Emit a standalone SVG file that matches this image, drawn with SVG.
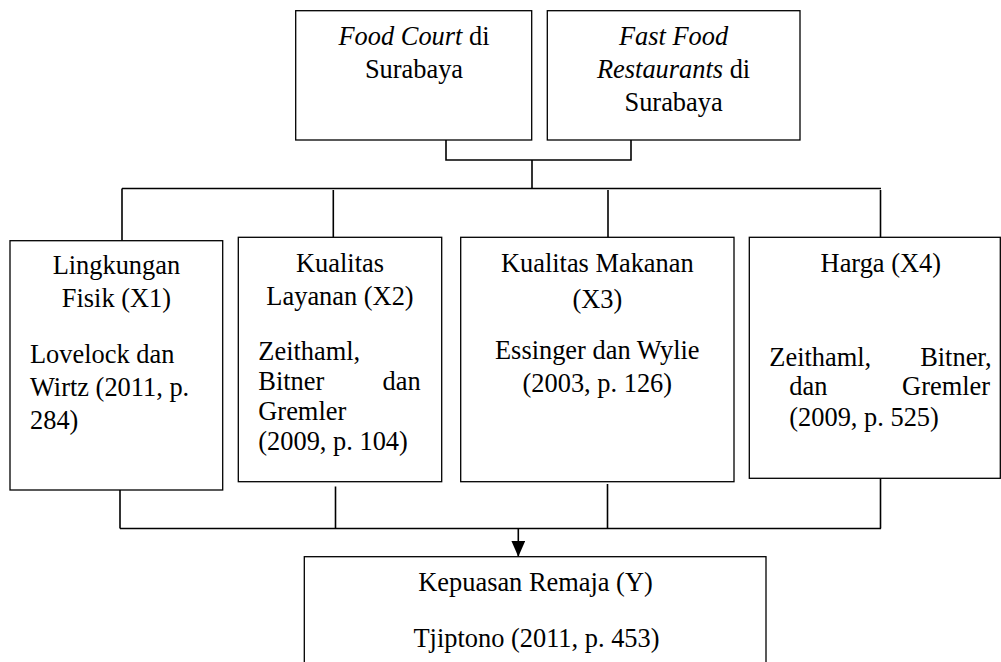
<svg xmlns="http://www.w3.org/2000/svg" width="1001" height="662" viewBox="0 0 1001 662">
<style>
.box{fill:#fff;stroke:#000;stroke-width:1.3}
.ln{fill:none;stroke:#000;stroke-width:1.6}
text{font-family:"Liberation Serif","Times New Roman","DejaVu Serif",serif;font-size:26.4px;fill:#000}
.c{text-anchor:middle}
.e{text-anchor:end}
.i{font-style:italic}
</style>
<defs>
<marker id="arr" markerUnits="userSpaceOnUse" viewBox="0 0 16 14" markerWidth="16" markerHeight="14" refX="16" refY="7" orient="auto">
<path d="M0,0 L16,7 L0,14 z" fill="#000"/>
</marker>
</defs>
<rect width="1001" height="662" fill="#fff"/>
<g id="connectors">
<polyline class="ln" points="446,140 446,160 631,160 631,140"/>
<line class="ln" x1="532" y1="160" x2="532" y2="188.5"/>
<line class="ln" x1="122" y1="188.5" x2="881" y2="188.5"/>
<line class="ln" x1="122" y1="188.5" x2="122" y2="240.7"/>
<line class="ln" x1="333.3" y1="190" x2="333.3" y2="237.3"/>
<line class="ln" x1="608" y1="190" x2="608" y2="237.3"/>
<line class="ln" x1="880.5" y1="190" x2="880.5" y2="237.3"/>
<line class="ln" x1="120" y1="490" x2="120" y2="528.5"/>
<line class="ln" x1="335.5" y1="486.5" x2="335.5" y2="528.5"/>
<line class="ln" x1="607.5" y1="484" x2="607.5" y2="528.5"/>
<line class="ln" x1="880.5" y1="478.3" x2="880.5" y2="528.5"/>
<line class="ln" x1="120" y1="528.5" x2="881" y2="528.5"/>
<line class="ln" x1="518.3" y1="528.5" x2="518.3" y2="556.7" marker-end="url(#arr)"/>
</g>
<g id="food-court">
<rect class="box" x="295.7" y="10.7" width="236" height="129.3"/>
<text class="c" x="414" y="45"><tspan class="i">Food Court</tspan> di</text>
<text class="c" x="414" y="78">Surabaya</text>
</g>
<g id="fast-food">
<rect class="box" x="547.3" y="10.7" width="252.7" height="129.3"/>
<text class="c i" x="673.6" y="45">Fast Food</text>
<text class="c" x="673.6" y="78"><tspan class="i">Restaurants</tspan> di</text>
<text class="c" x="673.6" y="111">Surabaya</text>
</g>
<g id="x1">
<rect class="box" x="10" y="240.7" width="212.7" height="249.3"/>
<text class="c" x="116.4" y="274">Lingkungan</text>
<text class="c" x="116.4" y="307">Fisik (X1)</text>
<text x="30" y="363">Lovelock dan</text>
<text x="30" y="396">Wirtz (2011, p.</text>
<text x="30" y="429">284)</text>
</g>
<g id="x2">
<rect class="box" x="238.3" y="237.3" width="203.4" height="244.4"/>
<text class="c" x="340" y="271.7">Kualitas</text>
<text class="c" x="340" y="305">Layanan (X2)</text>
<text x="258.3" y="360">Zeithaml,</text>
<text x="258.3" y="390">Bitner</text>
<text class="e" x="420.7" y="390">dan</text>
<text x="258.3" y="420">Gremler</text>
<text x="258.3" y="450">(2009, p. 104)</text>
</g>
<g id="x3">
<rect class="box" x="460.7" y="237.3" width="273.3" height="244.4"/>
<text class="c" x="597.3" y="271.7">Kualitas Makanan</text>
<text class="c" x="597.3" y="307.7">(X3)</text>
<text class="c" x="597.3" y="359.3">Essinger dan Wylie</text>
<text class="c" x="597.3" y="392">(2003, p. 126)</text>
</g>
<g id="x4">
<rect class="box" x="749.3" y="237.3" width="251" height="241"/>
<text class="c" x="880.8" y="271.7">Harga (X4)</text>
<text x="769.3" y="366">Zeithaml,</text>
<text class="e" x="991.7" y="366">Bitner,</text>
<text x="789.3" y="395">dan</text>
<text class="e" x="990" y="395">Gremler</text>
<text x="789.3" y="426">(2009, p. 525)</text>
</g>
<g id="y">
<rect class="box" x="304.3" y="556.7" width="461.7" height="120"/>
<text class="c" x="535.5" y="590.7">Kepuasan Remaja (Y)</text>
<text class="c" x="536.5" y="646.7">Tjiptono (2011, p. 453)</text>
</g>
</svg>
